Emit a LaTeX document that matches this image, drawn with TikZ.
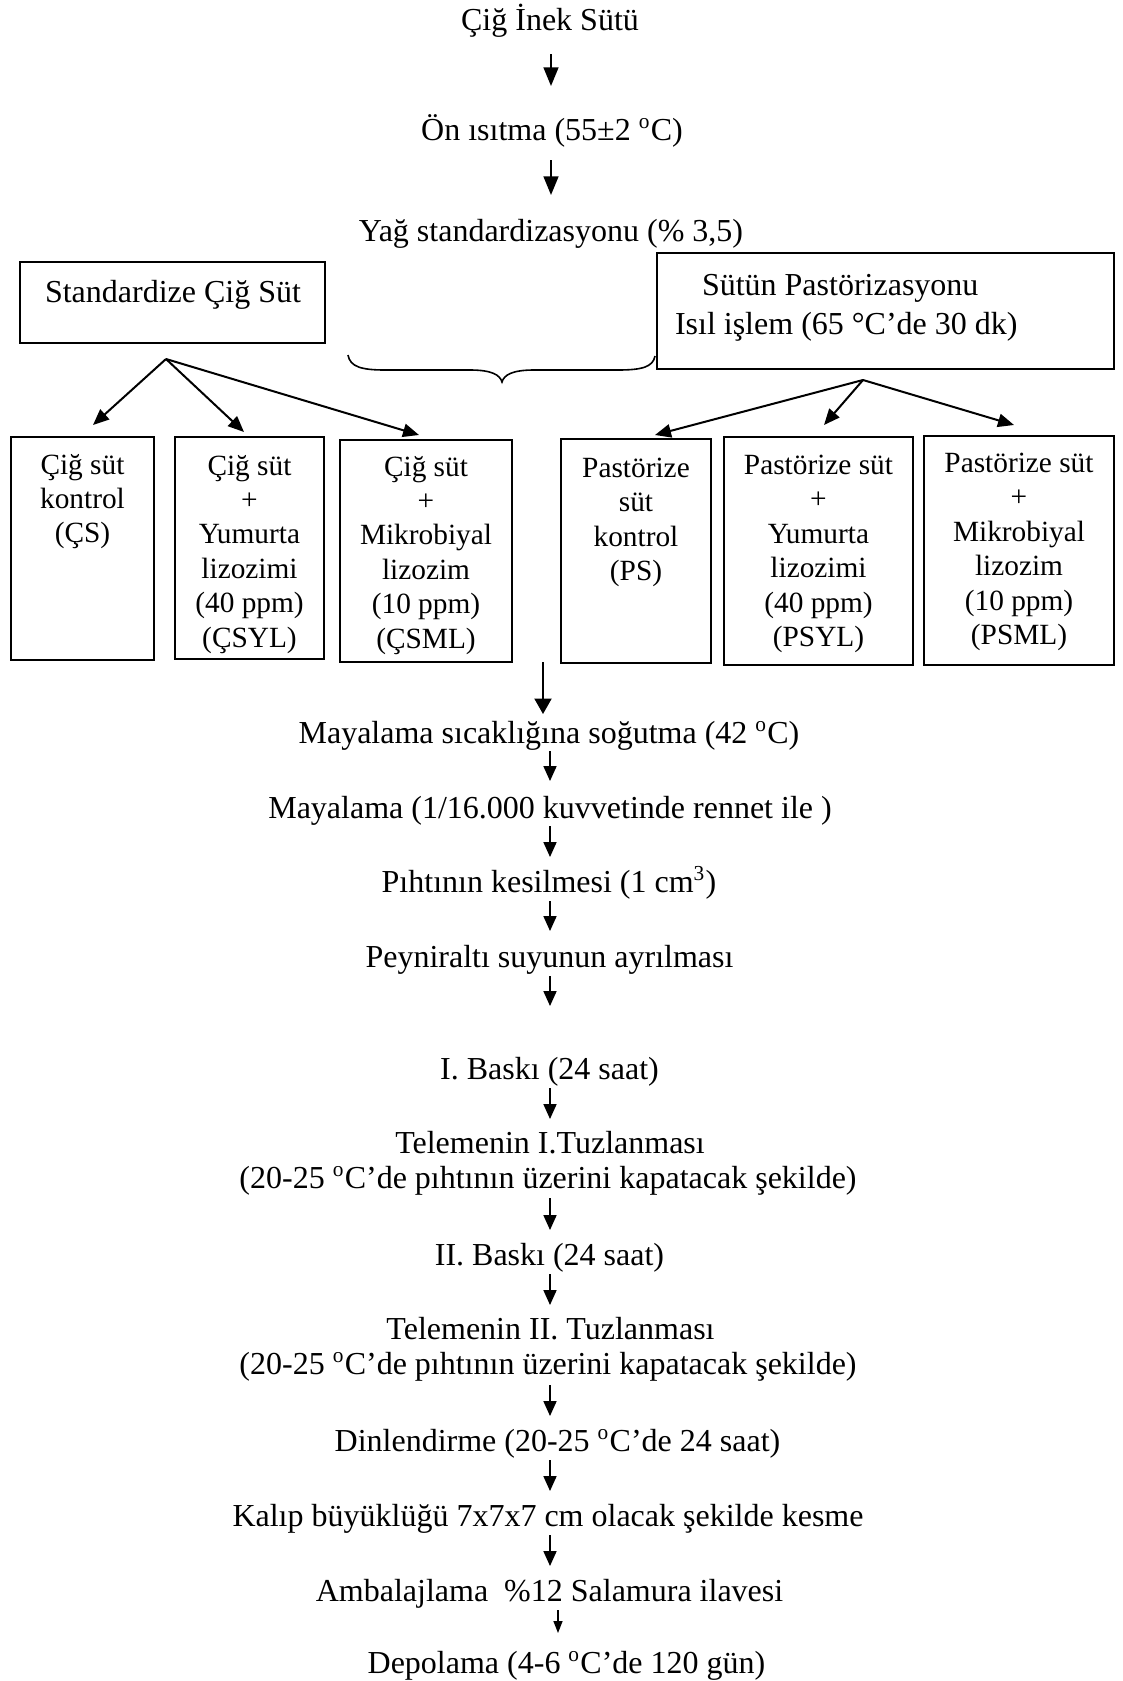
\documentclass[tikz,border=0pt]{standalone}
\usepackage{fontspec}
\setmainfont{Liberation Serif}
\usetikzlibrary{arrows.meta,calc,fit}
\begin{document}
\begin{tikzpicture}[x=0.375pt,y=-0.375pt,
  every node/.style={inner sep=0pt,outer sep=0pt},
  txt/.style={anchor=base,font=\fontsize{12}{13.8}\selectfont},
  txtw/.style={anchor=base west,font=\fontsize{12}{13.8}\selectfont},
  inbox/.style={anchor=north,align=center,font=\fontsize{11}{12.9}\selectfont,execute at begin node=\strut},
  frame/.style={draw,line width=0.6pt,inner sep=0pt},
  arr/.style={line width=0.55pt,-{Triangle[length=5.6pt,width=4.9pt]}},
  arrtop/.style={line width=0.65pt,-{Triangle[length=7pt,width=5.6pt]}},
  arrmid/.style={line width=0.7pt,-{Triangle[length=5.8pt,width=6.4pt]}},
  arrsmall/.style={line width=0.45pt,-{Triangle[length=4.5pt,width=3.4pt]}},
  fan/.style={line width=0.75pt,-{Triangle[length=6pt,width=5pt]}},
  bracestyle/.style={line width=0.6pt}
]
\fill[white] (0,0) rectangle (1123,1681);
\useasboundingbox (0,0) rectangle (1123,1681);

% axes for vertical connectors
\coordinate (tax) at (551,0);
\coordinate (ax) at (550,0);
\coordinate (sax) at (558,0);

% top chain
\node[txt] (n1) at (550,30) {Çiğ İnek Sütü};
\node[txt] (n2) at (552,140) {Ön ısıtma (55±2 \textsuperscript{o}C)};
\node[txt] (n3) at (551,241) {Yağ standardizasyonu (\% 3,5)};
\draw[arrtop] ($(n1.base -| tax)+(0,24)$) -- ($(n2.base -| tax)+(0,-54)$);
\draw[arrtop] ($(n2.base -| tax)+(0,20)$) -- ($(n3.base -| tax)+(0,-46)$);

% two branch boxes
\node[frame,fit={(20,262) (325,343)}] (sbox) {};
\node[txtw] (stxt) at (45,302) {Standardize Çiğ Süt};
\node[frame,fit={(657,253) (1114,369)}] (pbox) {};
\node[txtw] (ptxt1) at (702,295) {Sütün Pastörizasyonu};
\node[txtw] (ptxt2) at (675,334) {Isıl işlem (65 °C’de 30 dk)};

% brace
\draw[bracestyle] (348,355) .. controls (350,367) and (362,370) .. (385,370)
  -- (470,370) .. controls (492,370) and (500,375) .. (502,382)
  .. controls (504,375) and (512,370) .. (534,370)
  -- (618,370) .. controls (642,370) and (653,367) .. (655,356);

% sample boxes
\node[frame,fit={(11,437) (154,660)}] (b1) {};
\node[frame,fit={(175,437) (324,659)}] (b2) {};
\node[frame,fit={(340,440) (512,662)}] (b3) {};
\node[frame,fit={(561,439) (711,663)}] (b4) {};
\node[frame,fit={(724,437) (913,665)}] (b5) {};
\node[frame,fit={(924,436) (1114,665)}] (b6) {};

\node[inbox] (t1) at ($(b1.north)+(0,17)$) {Çiğ süt\\kontrol\\(ÇS)};
\node[inbox] (t2) at ($(b2.north)+(0,18)$) {Çiğ süt\\+\\Yumurta\\lizozimi\\(40 ppm)\\(ÇSYL)};
\node[inbox] (t3) at ($(b3.north)+(0,16)$) {Çiğ süt\\+\\Mikrobiyal\\lizozim\\(10 ppm)\\(ÇSML)};
\node[inbox] (t4) at ($(b4.north)+(0,19)$) {Pastörize\\süt\\kontrol\\(PS)};
\node[inbox] (t5) at ($(b5.north)+(0,18)$) {Pastörize süt\\+\\Yumurta\\lizozimi\\(40 ppm)\\(PSYL)};
\node[inbox] (t6) at ($(b6.north)+(0,17)$) {Pastörize süt\\+\\Mikrobiyal\\lizozim\\(10 ppm)\\(PSML)};

% fans
\coordinate (lo) at (166,359);
\coordinate (l1) at (93,425);
\coordinate (l2) at (244,432);
\coordinate (l3) at (419,435);
\coordinate (ro) at (863,380);
\coordinate (r1) at (655,435);
\coordinate (r2) at (824,425);
\coordinate (r3) at (1014,425);
\draw[fan] (lo) -- (l1);
\draw[fan] (lo) -- (l2);
\draw[fan] (lo) -- (l3);
\draw[fan] (ro) -- (r1);
\draw[fan] (ro) -- (r2);
\draw[fan] (ro) -- (r3);

% lower chain
\node[txt] (m1) at (549,743) {Mayalama sıcaklığına soğutma (42 \textsuperscript{o}C)};
\node[txt] (m2) at (550,818) {Mayalama (1/16.000 kuvvetinde rennet ile )};
\node[txt] (m3) at (549,892) {Pıhtının kesilmesi (1 cm\textsuperscript{3})};
\node[txt] (m4) at (549.5,967) {Peyniraltı suyunun ayrılması};
\node[txt] (m5) at (549.5,1079) {I. Baskı (24 saat)};
\node[txt] (m6) at (550,1153) {Telemenin I.Tuzlanması};
\node[txt] (m6b) at (548,1188) {(20-25 \textsuperscript{o}C’de pıhtının üzerini kapatacak şekilde)};
\node[txt] (m7) at (549.5,1265) {II. Baskı (24 saat)};
\node[txt] (m8) at (550.5,1339) {Telemenin II. Tuzlanması};
\node[txt] (m8b) at (548,1374) {(20-25 \textsuperscript{o}C’de pıhtının üzerini kapatacak şekilde)};
\node[txt] (m9) at (557.5,1451) {Dinlendirme (20-25 \textsuperscript{o}C’de 24 saat)};
\node[txt] (m10) at (548,1526) {Kalıp büyüklüğü 7x7x7 cm olacak şekilde kesme};
\node[txt] (m11) at (549.5,1601) {Ambalajlama\ \ \%12 Salamura ilavesi};
\node[txt] (m12) at (566.5,1673) {Depolama (4-6 \textsuperscript{o}C’de 120 gün)};

\coordinate (mtop) at (543,662);
\draw[arrmid] (mtop) -- ($(m1.base -| mtop)+(0,-29)$);
\draw[arr] ($(m1.base -| ax)+(0,8)$) -- ($(m2.base -| ax)+(0,-37)$);
\draw[arr] ($(m2.base -| ax)+(0,8)$) -- ($(m3.base -| ax)+(0,-35)$);
\draw[arr] ($(m3.base -| ax)+(0,9)$) -- ($(m4.base -| ax)+(0,-36)$);
\draw[arr] ($(m4.base -| ax)+(0,9)$) -- ($(m5.base -| ax)+(0,-73)$);
\draw[arr] ($(m5.base -| ax)+(0,9)$) -- ($(m6.base -| ax)+(0,-34)$);
\draw[arr] ($(m6b.base -| ax)+(0,10)$) -- ($(m7.base -| ax)+(0,-35)$);
\draw[arr] ($(m7.base -| ax)+(0,9)$) -- ($(m8.base -| ax)+(0,-34)$);
\draw[arr] ($(m8b.base -| ax)+(0,11)$) -- ($(m9.base -| ax)+(0,-35)$);
\draw[arr] ($(m9.base -| ax)+(0,9)$) -- ($(m10.base -| ax)+(0,-35)$);
\draw[arr] ($(m10.base -| ax)+(0,9)$) -- ($(m11.base -| ax)+(0,-35)$);
\draw[arrsmall] ($(m11.base -| sax)+(0,9)$) -- ($(m12.base -| sax)+(0,-40)$);
\end{tikzpicture}
\end{document}
